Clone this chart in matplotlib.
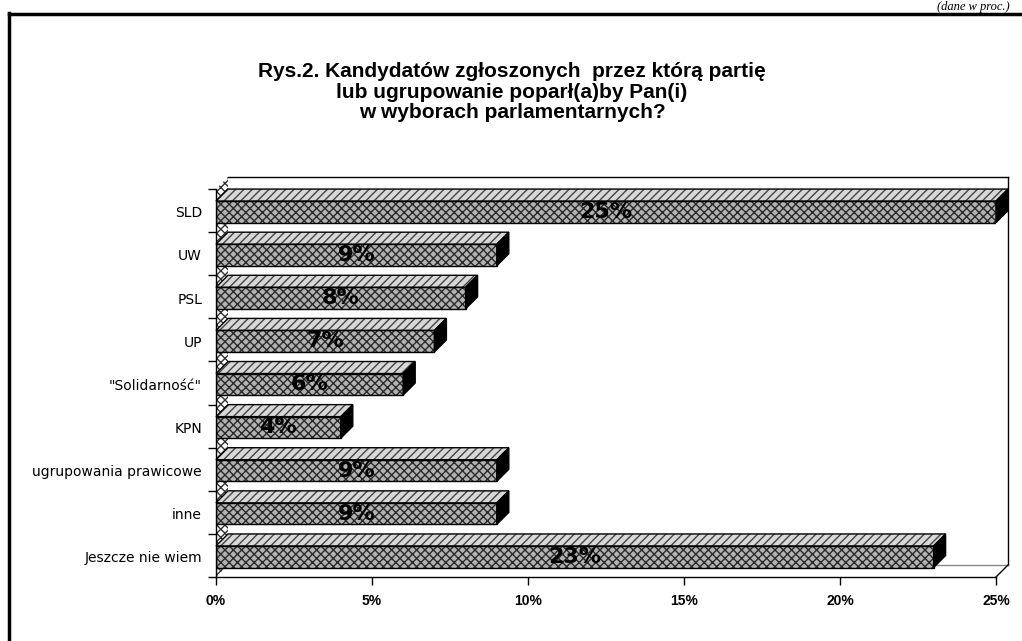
import matplotlib as mpl
mpl.use('Agg')
import matplotlib.pyplot as plt
from matplotlib.patches import Polygon
from matplotlib.lines import Line2D
import numpy as np

categories = ['SLD', 'UW', 'PSL', 'UP', '"Solidarność"', 'KPN',
              'ugrupowania prawicowe', 'inne', 'Jeszcze nie wiem']
values = [25, 9, 8, 7, 6, 4, 9, 9, 23]
value_labels = ['25%', '9%', '8%', '7%', '6%', '4%', '9%', '9%', '23%']
x_ticks = [0, 5, 10, 15, 20, 25]
x_tick_labels = ['0%', '5%', '10%', '15%', '20%', '25%']
title = ('Rys.2. Kandydatów zgłoszonych  przez którą partię\n'
         'lub ugrupowanie poparł(a)by Pan(i)\n'
         'w wyborach parlamentarnych?')
note = '(dane w proc.)'

W, H = 1022, 641
fig = plt.figure(figsize=(W / 100, H / 100), dpi=100)
fig.patch.set_facecolor('white')

# front plane of the plot, placed in pixels
ax = fig.add_axes([216 / W, (H - 577) / H, 780 / W, 388 / H])
n = len(categories)
ypos = np.arange(n)[::-1]
xmax = 25
ax.set_xlim(0, xmax)
ax.set_ylim(-0.5, n - 0.5)

# 3d depth (12 px each way) in data units
dx = xmax * 12 / 780
dy = n * 12 / 388
bar_h = 0.5
off = -0.03

# floor on the left, checkered
floor = Polygon([(0, -0.5), (dx, -0.5 + dy), (dx, n - 0.5 + dy), (0, n - 0.5)],
                closed=True, facecolor='white', edgecolor='#333333',
                hatch='xxxx', lw=0.0, zorder=1, clip_on=False)
ax.add_patch(floor)

# back wall outline
wall_kw = dict(color='black', lw=1.0, zorder=1, clip_on=False)
ax.add_line(Line2D([dx, xmax + dx], [n - 0.5 + dy, n - 0.5 + dy], **wall_kw))
ax.add_line(Line2D([xmax + dx, xmax + dx], [-0.5 + dy, n - 0.5 + dy], **wall_kw))
ax.add_line(Line2D([dx, xmax + dx], [-0.5 + dy, -0.5 + dy],
                   color='#888888', lw=1.0, zorder=1, clip_on=False))
ax.add_line(Line2D([xmax, xmax + dx], [-0.5, -0.5 + dy], **wall_kw))

# front faces
ax.barh(ypos + off, values, height=bar_h, color='#b2b2b2', hatch='xxxx',
        edgecolor='#2a2a2a', linewidth=0, zorder=3)
ax.barh(ypos + off, values, height=bar_h, fill=False, edgecolor='black',
        linewidth=1.0, zorder=4)

for y, v, lab in zip(ypos, values, value_labels):
    ft = y + off + bar_h / 2
    fb = y + off - bar_h / 2
    top = Polygon([(0, ft), (v, ft), (v + dx, ft + dy), (dx, ft + dy)],
                  closed=True, facecolor='#d8d8d8', edgecolor='#444444',
                  hatch='////', lw=0, zorder=3, clip_on=False)
    ax.add_patch(top)
    ax.add_patch(Polygon([(0, ft), (v, ft), (v + dx, ft + dy), (dx, ft + dy)],
                         closed=True, fill=False, edgecolor='black', lw=1.0,
                         zorder=4, clip_on=False))
    side = Polygon([(v, fb), (v, ft), (v + dx, ft + dy), (v + dx, fb + dy)],
                   closed=True, facecolor='black', edgecolor='black', lw=1.0,
                   zorder=4, clip_on=False)
    ax.add_patch(side)
    ax.text(v / 2, y + off, lab, ha='center', va='center', fontsize=16,
            fontweight='bold', family='DejaVu Sans', color='black', zorder=5)

# axes and ticks
for s in ['top', 'right']:
    ax.spines[s].set_visible(False)
ax.spines['left'].set_linewidth(1.0)
ax.spines['bottom'].set_linewidth(1.0)
ax.spines['left'].set_zorder(5)
ax.set_xticks(x_ticks)
ax.set_xticklabels(x_tick_labels, fontsize=10, fontweight='bold',
                   family=['Liberation Sans Narrow', 'Liberation Sans'])
ax.tick_params(axis='x', direction='out', length=6, width=1.0, pad=6)
ax.set_yticks(np.arange(-0.5, n, 1.0))
ax.set_yticklabels([])
ax.tick_params(axis='y', which='major', direction='out', length=6, width=1.0)
ax.set_yticks(ypos + off, minor=True)
ax.set_yticklabels(categories, minor=True, fontsize=10, family='DejaVu Sans')
ax.tick_params(axis='y', which='minor', length=0, pad=10)
ax.set_facecolor('none')

# title and note
fig.text(512 / W, 1 - 92 / H, title, ha='center', va='center', fontsize=15,
         fontweight='bold', family='Liberation Sans', linespacing=1.1)
fig.text(1010 / W, 1 - 10 / H, note, ha='right', va='baseline', fontsize=9,
         style='italic', family='Liberation Serif')

# outer frame of the scanned page
fig.add_artist(Line2D([9 / W, 9 / W], [0, 1 - 13 / H], color='black', lw=2.5))
fig.add_artist(Line2D([9 / W, 1], [1 - 14 / H, 1 - 14 / H], color='black', lw=2.5))

fig.savefig('out.png', dpi=100)
